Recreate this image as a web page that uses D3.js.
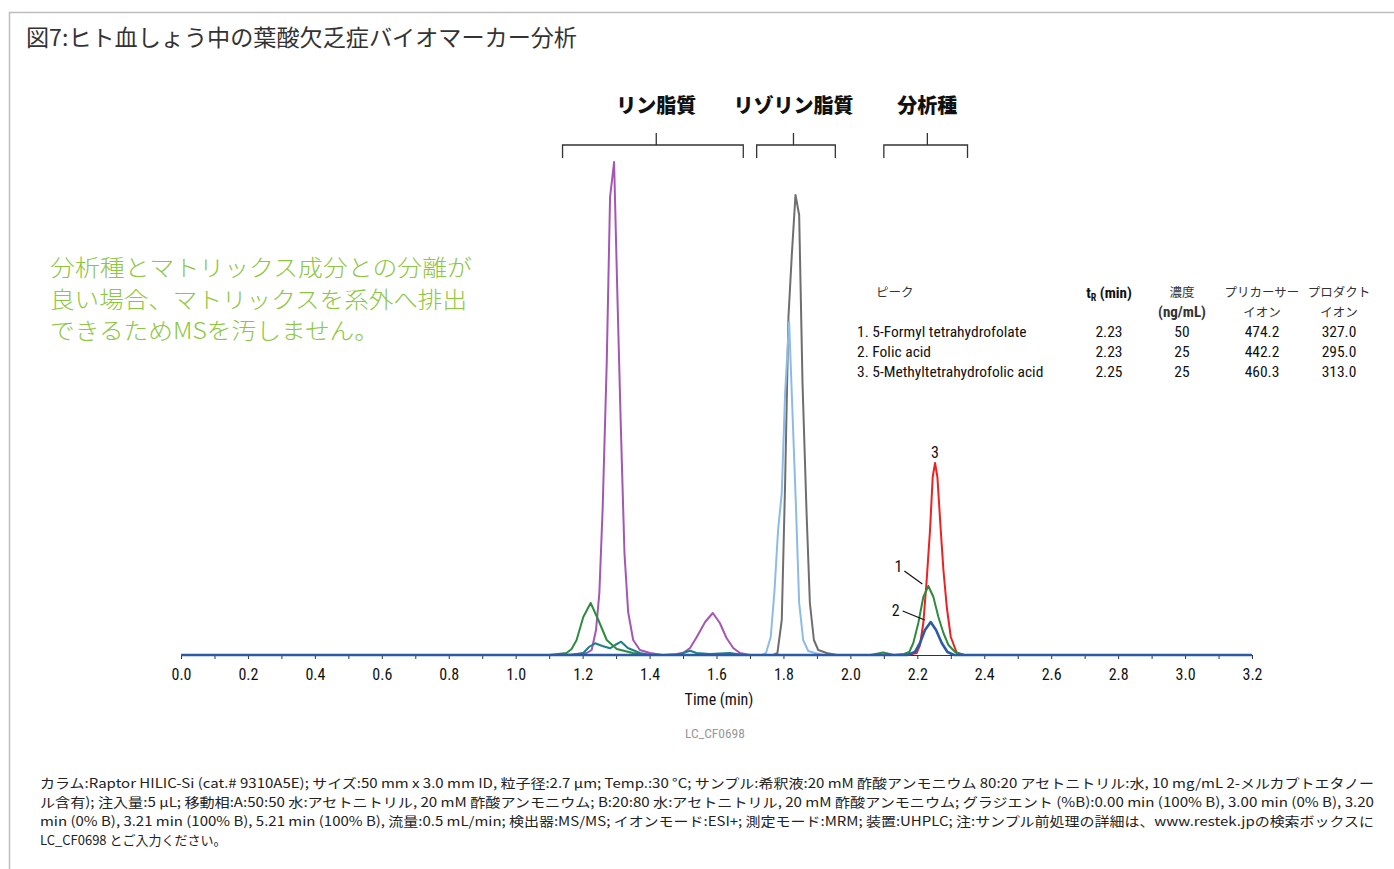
<!DOCTYPE html>
<html><head><meta charset="utf-8">
<script src="https://cdn.jsdelivr.net/npm/d3@7"></script>
<style>
body{margin:0;background:#fff;}
svg{display:block;}
</style></head>
<body>
<svg id="c" width="1394" height="869"></svg>
<script>
// ---------- data ----------
const xTicks = [0,0.1,0.2,0.3,0.4,0.5,0.6,0.7,0.8,0.9,1.0,1.1,1.2,1.3,1.4,1.5,1.6,1.7,1.8,1.9,2.0,2.1,2.2,2.3,2.4,2.5,2.6,2.7,2.8,2.9,3.0,3.1,3.2];
const xLabels = ["0.0","0.2","0.4","0.6","0.8","1.0","1.2","1.4","1.6","1.8","2.0","2.2","2.4","2.6","2.8","3.0","3.2"];

// [time (min), intensity]
const graySeries = [[1.77,0],[1.782,2],[1.795,35],[1.805,172],[1.815,338],[1.825,400],[1.836,460],[1.847,440],[1.857,272],[1.869,143],[1.879,52],[1.891,15],[1.904,5],[1.929,2],[1.96,0]];
const lightBlueSeries = [[1.735,0],[1.748,2],[1.762,18],[1.773,63],[1.784,125],[1.795,162],[1.805,262],[1.817,333],[1.826,252],[1.837,152],[1.847,52],[1.859,15],[1.874,4],[1.894,2],[1.92,0]];
const purpleSeries = [[1.15,0],[1.212,2],[1.227,5],[1.240,25],[1.250,62],[1.260,148],[1.272,292],[1.282,458],[1.294,493],[1.304,358],[1.314,230],[1.325,102],[1.336,43],[1.351,15],[1.371,5],[1.401,2],[1.44,0],[1.48,1],[1.500,2],[1.521,7],[1.541,18],[1.566,33],[1.589,42],[1.610,32],[1.630,17],[1.650,7],[1.670,2],[1.70,0]];
const tealSeries = [[1.17,0],[1.202,2],[1.219,8],[1.237,11.7],[1.259,9],[1.282,6.7],[1.297,10],[1.315,13.3],[1.335,7],[1.371,2],[1.40,0],[1.48,0],[1.50,2],[1.521,4.3],[1.54,2],[1.58,1],[1.64,2],[1.68,0]];
const redSeries = [[2.17,0],[2.198,2],[2.208,10],[2.218,32],[2.228,75],[2.238,125],[2.246,178],[2.253,192],[2.260,178],[2.270,125],[2.278,85],[2.288,48],[2.300,18],[2.318,2],[2.34,0]];
const greenSeries = [[1.10,0],[1.152,2],[1.167,6],[1.182,15],[1.202,38],[1.224,52],[1.247,35],[1.272,15],[1.302,6],[1.350,2],[1.40,0],[2.06,0],[2.098,2.5],[2.13,0],[2.16,1],[2.176,3],[2.188,12],[2.203,32],[2.218,58],[2.233,69],[2.248,58],[2.263,38],[2.278,22],[2.293,10],[2.313,3],[2.34,0]];
const blueSeries = [[0,0],[2.17,0],[2.193,3],[2.208,12],[2.223,25],[2.240,33],[2.256,25],[2.273,12],[2.290,3],[2.31,0],[3.2,0]];

const groupLabels = ["リン脂質","リゾリン脂質","分析種"];
const groupRanges = [[1.14,1.68,1.42],[1.72,1.955,1.83],[2.10,2.35,2.23]]; // start, end, centre (min)

const tableHeader1 = ["ピーク","(min)","濃度","プリカーサー","プロダクト"];
const tableHeader2 = ["","","(ng/mL)","イオン","イオン"];
const peakNames = ["1.  5-Formyl tetrahydrofolate","2.  Folic acid","3.  5-Methyltetrahydrofolic acid"];
const retention = ["2.23","2.23","2.25"];
const conc = ["50","25","25"];
const precursor = ["474.2","442.2","460.3"];
const product = ["327.0","295.0","313.0"];

const title = "図7:ヒト血しょう中の葉酸欠乏症バイオマーカー分析";
const noteLines = ["分析種とマトリックス成分との分離が","良い場合、マトリックスを系外へ排出","できるためMSを汚しません。"];
const footLines = [
 "カラム:Raptor HILIC-Si (cat.# 9310A5E); サイズ:50 mm x 3.0 mm ID, 粒子径:2.7 µm; Temp.:30 °C; サンプル:希釈液:20 mM 酢酸アンモニウム 80:20 アセトニトリル:水, 10 mg/mL 2-メルカプトエタノー",
 "ル含有); 注入量:5 µL; 移動相:A:50:50 水:アセトニトリル, 20 mM 酢酸アンモニウム; B:20:80 水:アセトニトリル, 20 mM 酢酸アンモニウム; グラジエント (%B):0.00 min (100% B), 3.00 min (0% B), 3.20",
 "min (0% B), 3.21 min (100% B), 5.21 min (100% B), 流量:0.5 mL/min; 検出器:MS/MS; イオンモード:ESI+; 測定モード:MRM; 装置:UHPLC; 注:サンプル前処理の詳細は、www.restek.jpの検索ボックスに",
 "LC_CF0698 とご入力ください。"
];

// ---------- drawing ----------
const svg = d3.select("#c");
const JP = "'Noto Sans CJK JP','Noto Sans',sans-serif";
const NARROW = "'Liberation Sans Narrow','Roboto Condensed','Roboto',sans-serif";

// frame
svg.append("path").attr("d","M9.5,869 V12.5 H1394").attr("fill","none").attr("stroke","#bdbdbd").attr("stroke-width",1.5);

svg.append("text").attr("x",26).attr("y",46).attr("font-family",JP).attr("font-size",22.5).attr("fill","#333")
  .attr("textLength",551).attr("lengthAdjust","spacingAndGlyphs").text(title);

const x = d3.scaleLinear().domain([0,3.2]).range([181,1252]);
const y = d3.scaleLinear().domain([0,500]).range([655,155]);

// axis
const ax = svg.append("g").attr("transform","translate(0,655)")
  .call(d3.axisBottom(x).tickValues(xTicks).tickSize(4).tickPadding(10)
    .tickFormat(d=>{const s=d3.format(".1f")(d); return xLabels.includes(s)?s:"";}));
ax.select(".domain").attr("stroke","#333");
ax.selectAll(".tick line").attr("stroke","#333");
ax.selectAll("text").attr("font-family",NARROW).attr("font-size",16).attr("fill","#111");

svg.append("text").attr("x",719).attr("y",705).attr("text-anchor","middle").attr("font-family",NARROW).attr("font-size",16).attr("fill","#111").text("Time (min)");
svg.append("text").attr("x",715).attr("y",738).attr("text-anchor","middle").attr("font-family",NARROW).attr("font-size",13.5).attr("fill","#999").text("LC_CF0698");

const line = d3.line().x(d=>x(d[0])).y(d=>y(d[1]));
const traces = [
  [graySeries,"#6e6e6e",2],[lightBlueSeries,"#8cbbe8",2],[purpleSeries,"#a456b4",2],[tealSeries,"#1d7f88",2],
  [redSeries,"#ee2020",2],[greenSeries,"#2e8a3e",2],[blueSeries,"#2a5aa8",2.6]
];
traces.forEach(([data,col,w])=>{
  svg.append("path").datum(data).attr("d",line).attr("fill","none").attr("stroke",col).attr("stroke-width",w).attr("stroke-linejoin","round");
});

// peak labels
svg.append("text").attr("x",x(2.253)).attr("y",y(192)-5).attr("text-anchor","middle").attr("font-family",NARROW).attr("font-size",16).attr("fill","#111").text("3");
svg.append("text").attr("x",x(2.233)-30).attr("y",y(69)-14).attr("text-anchor","middle").attr("font-family",NARROW).attr("font-size",16).attr("fill","#111").text("1");
svg.append("line").attr("x1",x(2.233)-24).attr("y1",y(69)-15).attr("x2",x(2.233)-6).attr("y2",y(69)-2).attr("stroke","#111").attr("stroke-width",1.2);
svg.append("text").attr("x",x(2.240)-35).attr("y",y(33)-6).attr("text-anchor","middle").attr("font-family",NARROW).attr("font-size",16).attr("fill","#111").text("2");
svg.append("line").attr("x1",x(2.240)-28).attr("y1",y(33)-11).attr("x2",x(2.240)-6).attr("y2",y(33)-2).attr("stroke","#111").attr("stroke-width",1.2);

// group brackets
groupLabels.forEach((g,i)=>{
  const [a,b,c] = groupRanges[i];
  const xa=x(a), xb=x(b), xc=x(c);
  svg.append("path").attr("d",`M${xa},158 V145 H${xb} V158 M${xc},145 V133`).attr("fill","none").attr("stroke","#333").attr("stroke-width",1.3);
  svg.append("text").attr("x",xc).attr("y",113).attr("text-anchor","middle").attr("font-family",JP).attr("font-weight",900).attr("font-size",20).attr("fill","#111").text(g);
});

// green note
const noteWidths = [422,417,329];
noteLines.forEach((t,i)=>{
  svg.append("text").attr("x",50).attr("y",276+i*31.5).attr("font-family",JP).attr("font-weight",300).attr("font-size",22.5)
    .attr("textLength",noteWidths[i]).attr("lengthAdjust","spacingAndGlyphs").attr("fill","#8dc63f").text(t);
});

// table
const colX = [876,1109,1182,1262,1339];
tableHeader1.forEach((t,i)=>{
  if(i===1){
    const tx = svg.append("text").attr("x",colX[i]).attr("y",298).attr("text-anchor","middle").attr("font-family",NARROW).attr("font-weight","bold").attr("font-size",15).attr("fill","#111");
    tx.append("tspan").text("t");
    tx.append("tspan").attr("font-size",10).attr("dy",3).text("R");
    tx.append("tspan").attr("dy",-3).text(" (min)");
  } else {
    svg.append("text").attr("x",colX[i]).attr("y",297).attr("text-anchor",i===0?"start":"middle").attr("font-family",JP).attr("font-size",12.5).attr("fill","#333").text(t);
  }
});
tableHeader2.forEach((t,i)=>{
  if(!t) return;
  svg.append("text").attr("x",colX[i]).attr("y",317).attr("text-anchor","middle")
    .attr("font-family",i===2?NARROW:JP).attr("font-weight",i===2?"bold":"normal").attr("font-size",i===2?15:12.5).attr("fill","#333").text(t);
});
peakNames.forEach((n,r)=>{
  const yy = 337+r*20;
  svg.append("text").attr("x",857).attr("y",yy).attr("font-family",NARROW).attr("font-size",15.5).attr("fill","#111").text(n);
  [retention[r],conc[r],precursor[r],product[r]].forEach((v,j)=>{
    svg.append("text").attr("x",colX[j+1]).attr("y",yy).attr("text-anchor","middle").attr("font-family",NARROW).attr("font-size",15.5).attr("fill","#111").text(v);
  });
});

// footnote
footLines.forEach((t,i)=>{
  const tx = svg.append("text").attr("x",40).attr("y",788+i*19).attr("font-family",JP).attr("font-size",13).attr("fill","#222").text(t);
  if(i<3) tx.attr("textLength",1334).attr("lengthAdjust","spacingAndGlyphs");
});
</script>
</body></html>
